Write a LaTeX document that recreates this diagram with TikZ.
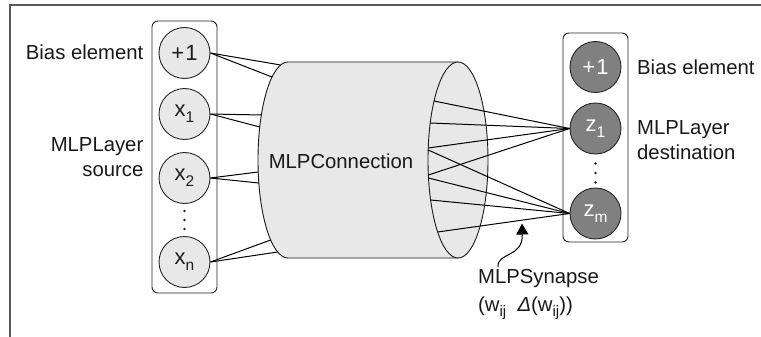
\documentclass[tikz,border=0pt]{standalone}
\usepackage{fontspec}
\setmainfont{Liberation Sans}
\usetikzlibrary{arrows.meta}
\newcommand{\lsub}[1]{\raisebox{-6pt}{\fontsize{15.5}{15.5}\selectfont #1}}
\newcommand{\tsub}[1]{\raisebox{-5pt}{\fontsize{15}{15}\selectfont #1}}
\begin{document}
\begin{tikzpicture}[x=1pt,y=-1pt,
  lbl/.style={font=\fontsize{20.3}{25}\selectfont, text=black!90, inner sep=0pt},
  srcn/.style={circle, draw=black!85, line width=0.9pt, fill=black!9, minimum size=51pt, inner sep=0pt, font=\fontsize{22}{22}\selectfont, text=black!88},
  dstn/.style={srcn, fill=black!50, text=white},
  layerbox/.style={draw=black!85, line width=0.9pt, rounded corners=6pt, inner sep=0pt},
  wire/.style={line width=1pt, black},
  cylline/.style={line width=0.9pt, black!90},
  frameline/.style={line width=2pt, black!65},
  dotmark/.style={fill=black!85}]
\useasboundingbox (0,0) rectangle (761,337);
% outer frame (partially visible)
\draw[frameline] (10,337) -- (10,5) -- (761,5);
% layer boxes
\node[layerbox, minimum width=65pt, minimum height=272pt] (srcbox) at (184.5,157) {};
\node[layerbox, minimum width=65pt, minimum height=209pt] (dstbox) at (595.5,137.5) {};
% cylinder
\fill[black!9] (458,62) -- (288,62) arc[start angle=-90, end angle=-270, x radius=30, y radius=98] -- (458,258) -- cycle;
\draw[cylline] (458,62) -- (288,62) arc[start angle=-90, end angle=-270, x radius=30, y radius=98] -- (458,258);
\draw[cylline, fill=black!9] (458,160) ellipse [x radius=30, y radius=98];
\node[lbl, anchor=base] (conn) at (341,168.3) {MLPConnection};
% source neurons
\node[srcn] (b1) at (184.5,53) {+\kern1pt1};
\node[srcn] (x1) at (184.5,114) {x\lsub{1}};
\node[srcn] (x2) at (184.5,178) {x\lsub{2}};
\node[srcn] (xn) at (184.5,262) {x\lsub{n}};
\fill[dotmark] (184.5,211) circle (1.4pt) (184.5,220) circle (1.4pt) (184.5,229) circle (1.4pt);
% destination neurons
\node[dstn] (b2) at (595.5,67) {+\kern1pt1};
\node[dstn] (z1) at (595.5,128.5) {z\lsub{1}};
\node[dstn] (zm) at (595.5,213.5) {z\lsub{m}};
\fill[dotmark] (595.5,163.5) circle (1.4pt) (595.5,173) circle (1.4pt) (595.5,182.5) circle (1.4pt);
% attachment points on the cylinder
\coordinate (L1a) at (280.6,65);
\coordinate (L1b) at (272,77);
\coordinate (L2a) at (261.4,115);
\coordinate (L2b) at (259.8,127);
\coordinate (L3a) at (258.2,172);
\coordinate (L3b) at (258.8,183);
\coordinate (L4a) at (270.7,240);
\coordinate (L4b) at (277.6,252);
\coordinate (R1) at (434,101);
\coordinate (R2) at (430.2,123);
\coordinate (R3) at (428.2,148);
\coordinate (R4) at (428.2,150);
\coordinate (R5) at (428.4,175);
\coordinate (R6) at (428.5,178);
\coordinate (R7) at (430.6,200);
\coordinate (R8) at (437.6,232);
% input wires
\draw[wire] (b1.east) -- (L1a);
\draw[wire] (b1.east) -- (L1b);
\draw[wire] (x1.east) -- (L2a);
\draw[wire] (x1.east) -- (L2b);
\draw[wire] (x2.east) -- (L3a);
\draw[wire] (x2.east) -- (L3b);
\draw[wire] (xn.east) -- (L4a);
\draw[wire] (xn.east) -- (L4b);
% synapses
\draw[wire] (R1) -- (z1.west);
\draw[wire] (R2) -- (z1.west);
\draw[wire] (R3) -- (z1.west);
\draw[wire] (R5) -- (z1.west);
\draw[wire] (R4) -- (zm.west);
\draw[wire] (R6) -- (zm.west);
\draw[wire] (R7) -- (zm.west);
\draw[wire] (R8) -- (zm.west);
% labels (base anchor of a two-line node = baseline of its last line)
\node[lbl, anchor=base east] (lbias) at (143.5,59.5) {Bias element};
\node[lbl, anchor=base east, align=right] (lsrc) at (143.5,176.5) {MLPLayer\\source};
\node[lbl, anchor=base west] (rbias) at (637,75) {Bias element};
\node[lbl, anchor=base west, align=left] (rdst) at (637,159.5) {MLPLayer\\destination};
\node[lbl, anchor=base west, align=left, font=\fontsize{20.3}{27.5}\selectfont] (syn) at (478,311) {MLPSynapse\\(w\tsub{ij}\ \ \textit{Δ}(w\tsub{ij}))};
\coordinate (arrstart) at (498,267);
\coordinate (arrtip) at (522,223.5);
\draw[line width=1pt, -{Triangle[length=11pt, width=12pt]}] (arrstart) .. controls (497,252) and (523,258) .. (arrtip);
\end{tikzpicture}
\end{document}
